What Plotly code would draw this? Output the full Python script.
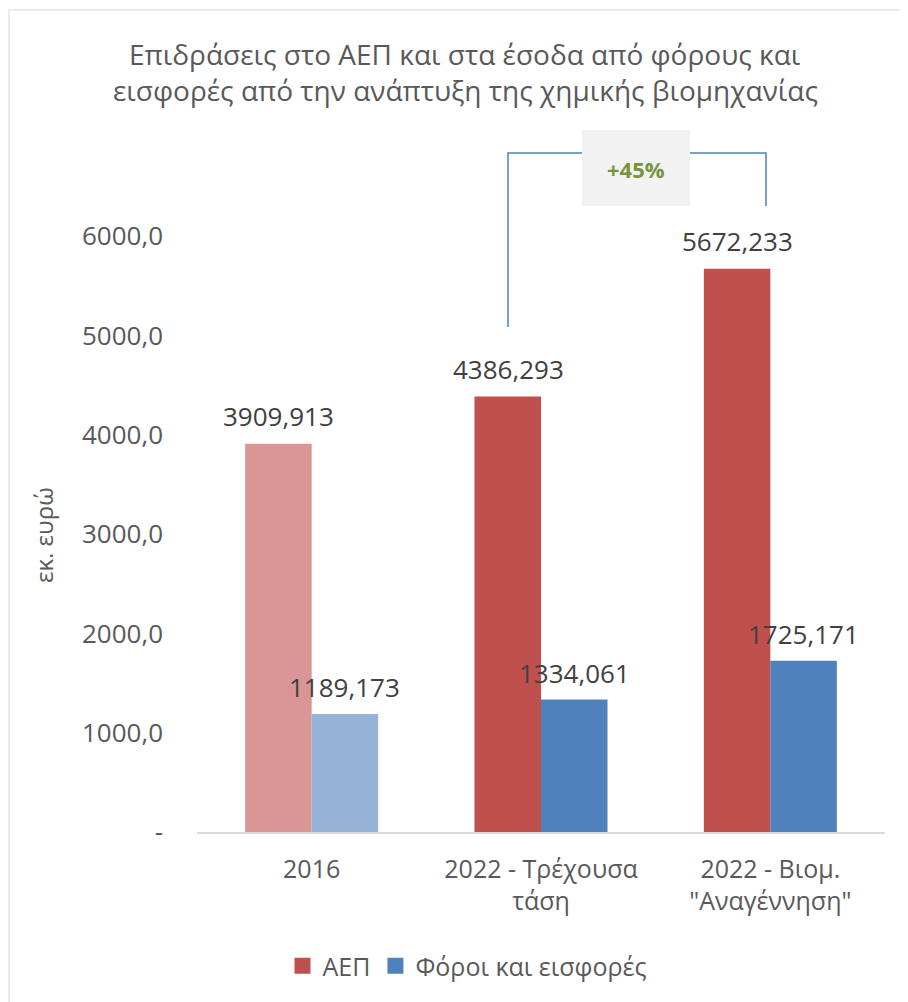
import plotly.graph_objects as go

categories = ["2016", "2022 - Τρέχουσα<br>τάση", "2022 - Βιομ.<br>\"Αναγέννηση\""]
aep = [3909.913, 4386.293, 5672.233]
foroi = [1189.173, 1334.061, 1725.171]
tick_vals = [0, 1000, 2000, 3000, 4000, 5000, 6000]
tick_text = ["-", "1000,0", "2000,0", "3000,0", "4000,0", "5000,0", "6000,0"]
growth_label = "+45%"

red = "#C0504D"
red_light = "#D99694"
blue = "#4F81BD"
blue_light = "#95B3D7"
grey = "#595959"
font = "Open Sans"

# page is drawn with an 8px body margin, so layout is shifted back by that
OFF = 8
W, H = 908, 1002
PW, PH = 688, 695
L, T = 197 - OFF, 137 - OFF
R, B = W - L - PW, H - T - PH


def px(x):
    # page pixel -> paper x
    return (x - OFF - L) / PW


def py(y):
    # page pixel -> paper y
    return (T + PH - (y - OFF)) / PH


def fmt(v):
    return f"{v:.3f}".replace(".", ",")


pos = list(range(len(categories)))

fig = go.Figure()
fig.add_trace(go.Bar(x=pos, y=aep, name="ΑΕΠ", showlegend=False,
                     marker=dict(color=[red_light, red, red], line_width=0)))
fig.add_trace(go.Bar(x=pos, y=foroi, name="Φόροι και εισφορές", showlegend=False,
                     marker=dict(color=[blue_light, blue, blue], line_width=0)))
# legend entries with the solid colours
fig.add_trace(go.Scatter(x=[0], y=[None], mode="markers", name="ΑΕΠ",
                         marker=dict(symbol="square", size=16, color=red)))
fig.add_trace(go.Scatter(x=[0], y=[None], mode="markers", name="Φόροι και εισφορές",
                         marker=dict(symbol="square", size=16, color=blue)))

annotations = []
for i, a, f in zip(pos, aep, foroi):
    annotations.append(dict(x=i, y=a, xref="x", yref="y", text=fmt(a), showarrow=False,
                            xshift=-33, yshift=28, font=dict(size=26, color="#404040")))
    annotations.append(dict(x=i, y=f, xref="x", yref="y", text=fmt(f), showarrow=False,
                            xshift=33, yshift=27, font=dict(size=26, color="#404040")))

title_lines = ["Επιδράσεις στο ΑΕΠ και στα έσοδα από φόρους και",
               "εισφορές από την ανάπτυξη της χημικής βιομηχανίας"]
for line, yy in zip(title_lines, [54, 90]):
    annotations.append(dict(x=px(465), y=py(yy), xref="paper", yref="paper", text=line,
                            showarrow=False, xanchor="center", yanchor="middle",
                            font=dict(size=28, color=grey)))

annotations.append(dict(x=px(43), y=py(535), xref="paper", yref="paper", text="εκ. ευρώ",
                        textangle=-90, showarrow=False, xanchor="center", yanchor="middle",
                        font=dict(size=24, color=grey)))

annotations.append(dict(x=px(636), y=py(169), xref="paper", yref="paper",
                        text="<b>" + growth_label + "</b>", showarrow=False,
                        xanchor="center", yanchor="middle", font=dict(size=22, color="#77933C")))

shapes = [
    # chart border
    dict(type="rect", xref="paper", yref="paper", x0=px(9), y0=py(1020), x1=px(925), y1=py(10),
         line=dict(color="#EBEBEB", width=2), layer="below"),
    # bracket
    dict(type="path", xref="paper", yref="paper",
         path=f"M{px(508)},{py(327)} L{px(508)},{py(153)} L{px(766)},{py(153)} L{px(766)},{py(206)}",
         line=dict(color="#4F81BD", width=1.5)),
    dict(type="rect", xref="paper", yref="paper", x0=px(582), x1=px(690), y0=py(206), y1=py(130),
         fillcolor="#F2F2F2", line_width=0),
]

fig.update_layout(
    width=W, height=H,
    margin=dict(l=L, r=R, t=T, b=B),
    paper_bgcolor="white", plot_bgcolor="white",
    font=dict(family=font, size=22, color=grey),
    barmode="group", bargap=0.42, bargroupgap=0,
    xaxis=dict(range=[-0.5, 2.5], tickvals=pos, ticktext=categories, showline=True,
               linecolor="#D9D9D9", linewidth=1.5, ticks="", showgrid=False, zeroline=False,
               ticklabelstandoff=14, tickfont=dict(size=25, color=grey)),
    yaxis=dict(range=[0, 7000], tickvals=tick_vals, ticktext=tick_text, showgrid=False,
               zeroline=False, showline=False, ticklabelstandoff=33,
               tickfont=dict(size=26, color=grey)),
    legend=dict(orientation="h", xref="container", yref="container", x=459 / W,
                y=(H - (966 - OFF)) / H, xanchor="center", yanchor="middle",
                font=dict(size=25, color=grey)),
    annotations=annotations,
    shapes=shapes,
)

fig.write_html("out.html")
